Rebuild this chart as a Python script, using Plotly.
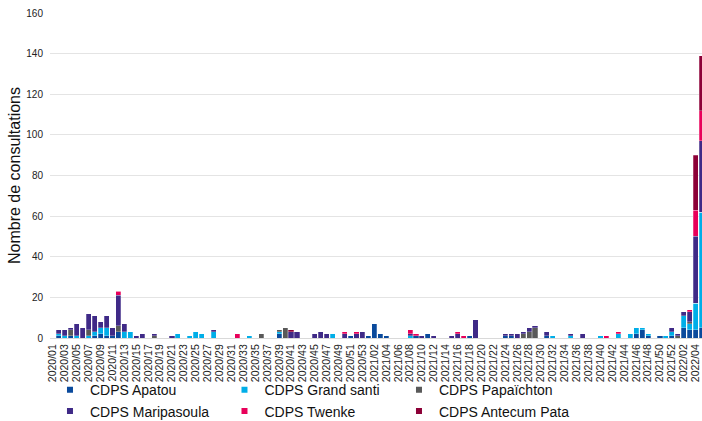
import plotly.graph_objects as go

weeks = ([f"2020/{w:02d}" for w in range(1, 54)]
         + [f"2021/{w:02d}" for w in range(1, 53)]
         + [f"2022/{w:02d}" for w in range(1, 6)])
tick_labels = weeks[0:109:2]

apatou = {"2020/02": 1, "2020/04": 1, "2020/08": 1, "2020/09": 2, "2020/10": 1, "2020/11": 1,
          "2020/12": 3, "2020/39": 2, "2020/51": 1, "2021/01": 1, "2021/02": 7, "2021/03": 2,
          "2021/04": 1, "2021/09": 1, "2021/11": 2, "2021/18": 1, "2021/24": 1, "2021/25": 1,
          "2021/31": 1, "2021/46": 2, "2021/47": 4, "2021/48": 1, "2021/50": 1, "2021/52": 1,
          "2022/02": 5, "2022/03": 4, "2022/04": 4, "2022/05": 5}
grand_santi = {"2020/02": 1, "2020/03": 1, "2020/05": 1, "2020/07": 1, "2020/08": 2, "2020/09": 3,
               "2020/10": 4, "2020/13": 3, "2020/14": 3, "2020/22": 2, "2020/24": 1, "2020/25": 3,
               "2020/26": 2, "2020/28": 3, "2020/34": 1, "2020/39": 1, "2020/48": 2, "2021/08": 1,
               "2021/32": 1, "2021/35": 1, "2021/40": 1, "2021/43": 2, "2021/45": 2, "2021/46": 3,
               "2021/47": 1, "2021/48": 1, "2021/51": 1, "2021/52": 2, "2022/02": 6, "2022/03": 3,
               "2022/04": 13, "2022/05": 57}
papaichton = {"2020/04": 3, "2020/07": 3, "2020/12": 3, "2020/18": 1, "2020/36": 2, "2020/39": 1,
              "2020/40": 5, "2021/27": 2, "2021/28": 3, "2021/29": 5, "2022/01": 1, "2022/03": 1}
maripasoula = {"2020/02": 2, "2020/03": 3, "2020/04": 1, "2020/05": 6, "2020/06": 5, "2020/07": 8,
               "2020/08": 8, "2020/09": 3, "2020/10": 6, "2020/11": 4, "2020/12": 15, "2020/13": 4,
               "2020/15": 1, "2020/16": 2, "2020/18": 1, "2020/21": 1, "2020/28": 1, "2020/41": 3,
               "2020/42": 3, "2020/45": 2, "2020/46": 3, "2020/47": 2, "2020/50": 2, "2020/52": 2,
               "2020/53": 3, "2021/08": 1, "2021/10": 1, "2021/12": 1, "2021/15": 1, "2021/16": 2,
               "2021/19": 9, "2021/24": 1, "2021/25": 1, "2021/26": 2, "2021/27": 1, "2021/28": 2,
               "2021/29": 1, "2021/31": 2, "2021/35": 1, "2021/37": 2, "2021/52": 2, "2022/01": 1,
               "2022/02": 2, "2022/03": 5, "2022/04": 33, "2022/05": 35}
twenke = {"2020/12": 2, "2020/32": 2, "2020/50": 1, "2020/52": 1, "2021/08": 2, "2021/09": 1,
          "2021/16": 1, "2021/17": 1, "2021/41": 1, "2021/43": 1, "2022/03": 1, "2022/04": 13,
          "2022/05": 15}
antecum_pata = {"2020/41": 1, "2022/04": 27, "2022/05": 27}

series_names = ["CDPS Apatou", "CDPS Grand santi", "CDPS Papaïchton",
                "CDPS Maripasoula", "CDPS Twenke", "CDPS Antecum Pata"]
series_data = [apatou, grand_santi, papaichton, maripasoula, twenke, antecum_pata]
colors = ["#0a4a9c", "#00aee8", "#595959", "#3f2a87", "#e8005a", "#8c0037"]

fig = go.Figure()
for name, data, col in zip(series_names, series_data, colors):
    fig.add_trace(go.Bar(
        x=weeks, y=[data.get(w, 0) for w in weeks], name=name,
        marker=dict(color=col, line=dict(color="rgba(255,255,255,0.5)", width=0.5)),
        showlegend=False,
    ))
for name, col in zip(series_names, colors):
    fig.add_trace(go.Scatter(
        x=[None], y=[None], mode="markers", name=name,
        marker=dict(symbol="square", size=6, color=col),
    ))

fig.update_layout(
    width=702, height=421,
    margin=dict(l=50, r=0, t=13, b=83),
    barmode="stack", bargap=0.15,
    plot_bgcolor="white", paper_bgcolor="white",
    font=dict(family="Arial, Liberation Sans, sans-serif", color="#222", size=10),
    legend=dict(orientation="h", xref="container", yref="container",
                x=0.0712, xanchor="left", y=0.111, yanchor="top",
                traceorder="normal",
                font=dict(size=14, color="#111"), entrywidth=129.5,
                bgcolor="rgba(0,0,0,0)"),
)
fig.update_xaxes(
    type="category", categoryorder="array", categoryarray=weeks,
    range=[-0.5, 109.06], tickmode="array", tickvals=tick_labels, ticktext=tick_labels,
    tickangle=-90, tickfont=dict(size=10.5, color="#222"), ticklabelstandoff=1,
    showgrid=False, showline=True, linecolor="#d9d9d9", linewidth=1, ticks="",
    automargin=False,
)
fig.update_yaxes(
    range=[0, 160], dtick=20, showgrid=True, gridcolor="#e4e4e4", gridwidth=1,
    zeroline=False, tickfont=dict(size=10, color="#222"), ticklabelstandoff=6,
    automargin=False,
    title=dict(text="Nombre de consultations", font=dict(size=16, color="#111"), standoff=1),
)

fig.write_html("out.html", config={"displayModeBar": False},
               post_script="document.body.style.margin='0px';")
